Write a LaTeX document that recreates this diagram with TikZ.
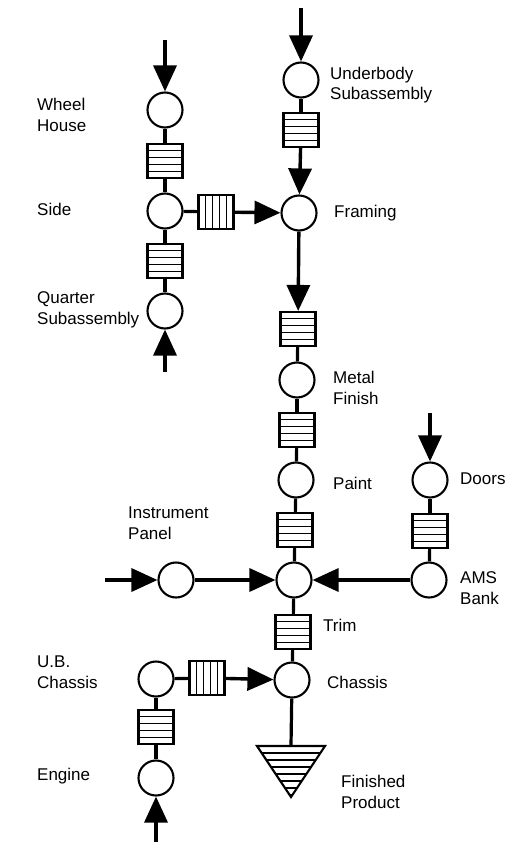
\documentclass[tikz,border=0pt]{standalone}
\usepackage{fontspec}
\setmainfont{Liberation Sans}
\usetikzlibrary{arrows.meta}

\begin{document}
\begin{tikzpicture}[x=1pt, y=-1pt,
    st/.style={draw, circle, minimum size=35pt, inner sep=0pt, line width=2.1pt},
    bf/.style={draw, rectangle, minimum width=35pt, minimum height=34pt, inner sep=0pt, line width=2.1pt,
        path picture={\foreach \k in {1,...,4}
            \draw[line width=1.2pt] ([yshift=\k*6.8pt]path picture bounding box.south west) -- ([yshift=\k*6.8pt]path picture bounding box.south east);}},
    vbf/.style={draw, rectangle, minimum width=35pt, minimum height=34pt, inner sep=0pt, line width=2.1pt,
        path picture={\foreach \k in {1,...,4}
            \draw[line width=1.2pt] ([xshift=\k*7pt]path picture bounding box.south west) -- ([xshift=\k*7pt]path picture bounding box.north west);}},
    ln/.style={line width=3.2pt},
    ar/.style={-{Triangle[length=26pt, width=23pt]}, line width=3.4pt},
    lb/.style={font=\fontsize{17}{20.5}\selectfont, align=left, inner sep=0pt}
]
\useasboundingbox (0,0) rectangle (516,842);

% side subassembly
\coordinate (whin) at (165,40);
\node[st] (wh)   at (165,110) {};
\node[bf] (bwh)  at (165,161) {};
\node[st] (side) at (165,211) {};
\node[bf] (bqt)  at (165,261) {};
\node[st] (qt)   at (165,311) {};
\coordinate (qtin) at (165,372);
\node[vbf] (bside) at (216,212) {};

% main line
\coordinate (ubin) at (301,8);
\node[st] (ub)    at (301,80)  {};
\node[bf] (bub)   at (301,130) {};
\node[st] (frm)   at (299,213) {};
\node[bf] (bfrm)  at (298,329) {};
\node[st] (mf)    at (297,380) {};
\node[bf] (bmf)   at (297,430) {};
\node[st] (paint) at (296,480) {};
\node[bf] (bpt)   at (295,530) {};
\node[st] (trm)   at (294,580) {};
\node[bf] (btrm)  at (293,632) {};
\node[st] (chs)   at (292,680) {};

% doors and instrument panel
\coordinate (drin) at (430,413);
\node[st] (dr)   at (430,480) {};
\node[bf] (bdr)  at (430,531) {};
\node[st] (ams)  at (429,580) {};
\coordinate (ipin) at (105,580);
\node[st] (ip)   at (176,580) {};

% chassis subassembly
\node[st] (ubc)   at (156,679) {};
\node[vbf] (bubc) at (207,678) {};
\node[bf] (beng)  at (156,727) {};
\node[st] (eng)   at (156,778) {};
\coordinate (engin) at (156,842);

% finished product
\coordinate (fpl) at (257,746);
\coordinate (fpr) at (325,746);
\coordinate (fpa) at (291,797);
\coordinate (fp)  at (291,746);
\begin{scope}
    \clip (fpl) -- (fpr) -- (fpa) -- cycle;
    \foreach \yy in {753,760,...,795}
        \draw[line width=1.2pt] (250,\yy) -- (330,\yy);
\end{scope}
\draw[line width=2.1pt, line join=miter] (fpl) -- (fpr) -- (fpa) -- cycle;

% connectors
\draw[ar] (whin) -- (wh);
\draw[ln] (wh) -- (bwh);
\draw[ln] (bwh) -- (side);
\draw[ln] (side) -- (bqt);
\draw[ln] (bqt) -- (qt);
\draw[ar] (qtin) -- (qt);
\draw[ln] (side) -- (bside);
\draw[ar] (bside) -- (frm);
\draw[ar] (ubin) -- (ub);
\draw[ln] (ub) -- (bub);
\draw[ar] (bub) -- (frm);
\draw[ar] (frm) -- (bfrm);
\draw[ln] (bfrm) -- (mf);
\draw[ln] (mf) -- (bmf);
\draw[ln] (bmf) -- (paint);
\draw[ln] (paint) -- (bpt);
\draw[ln] (bpt) -- (trm);
\draw[ar] (drin) -- (dr);
\draw[ln] (dr) -- (bdr);
\draw[ln] (bdr) -- (ams);
\draw[ar] (ams) -- (trm);
\draw[ar] (ipin) -- (ip);
\draw[ar] (ip) -- (trm);
\draw[ln] (trm) -- (btrm);
\draw[ln] (btrm) -- (chs);
\draw[ln] (ubc) -- (bubc);
\draw[ar] (bubc) -- (chs);
\draw[ln] (ubc) -- (beng);
\draw[ln] (beng) -- (eng);
\draw[ar] (engin) -- (eng);
\draw[ln] (chs) -- (fp);

% labels
\node[lb, anchor=west] (lwh)   at (37,115)  {Wheel\\House};
\node[lb, anchor=west] (lside) at (37,209)  {Side};
\node[lb, anchor=west] (lqt)   at (37,310)  {Quarter\\Subassembly};
\node[lb, anchor=west] (lub)   at (330,85)  {Underbody\\Subassembly};
\node[lb, anchor=west] (lfrm)  at (334,213) {Framing};
\node[lb, anchor=west] (lmf)   at (333,388) {Metal\\Finish};
\node[lb, anchor=west] (lpt)   at (333,483) {Paint};
\node[lb, anchor=west] (ldr)   at (460,479) {Doors};
\node[lb, anchor=west] (lip)   at (128,523) {Instrument\\Panel};
\node[lb, anchor=west] (lams)  at (460,588) {AMS\\Bank};
\node[lb, anchor=west] (ltrm)  at (323,625) {Trim};
\node[lb, anchor=west] (lubc)  at (37,672)  {U.B.\\Chassis};
\node[lb, anchor=west] (lchs)  at (327,682) {Chassis};
\node[lb, anchor=west] (leng)  at (37,776)  {Engine};
\node[lb, anchor=west] (lfp)   at (341,792) {Finished\\Product};
\end{tikzpicture}
\end{document}
